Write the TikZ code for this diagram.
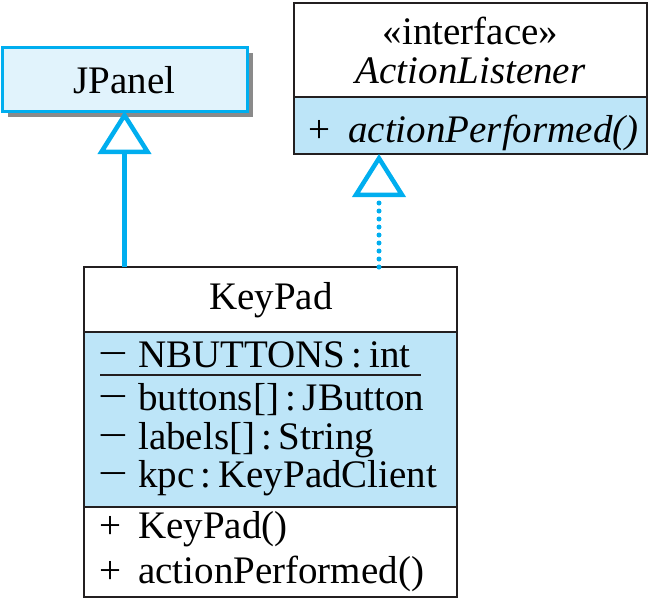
\documentclass[tikz,border=0pt]{standalone}
\usepackage{fontspec}
\usepackage{graphicx}
\setmainfont{Liberation Serif}
\usetikzlibrary{arrows.meta,calc}
\definecolor{umlcyan}{HTML}{00AEEF}
\definecolor{umlblue}{HTML}{BDE5F8}
\definecolor{umlpale}{HTML}{E1F3FC}
\definecolor{umlline}{HTML}{231F20}
\definecolor{umlshadow}{HTML}{8A8A8A}
\newcommand\umlminus{\raisebox{0.5pt}{\scalebox{1.35}[1]{−}}}
\begin{document}
\begin{tikzpicture}[x=1pt,y=-1pt,
 comp/.style={draw=umlline, line width=2.5pt, inner sep=0pt, outer sep=0pt, anchor=north west, minimum width=373pt},
 txt/.style={inner sep=0pt, anchor=base west, font=\fontsize{39}{42}\selectfont},
 ctxt/.style={inner sep=0pt, anchor=base, font=\fontsize{39}{42}\selectfont},
 tipstyle/.style={-{Triangle[open, length=43pt, width=53pt, fill=white, line width=4.5pt]}},
 gen/.style={umlcyan, line width=4.5pt, tipstyle},
 real/.style={umlcyan, line width=5pt, line cap=round, dash pattern=on 0pt off 8pt, tipstyle},
]
\useasboundingbox (0,0) rectangle (651,600);
% JPanel
\fill[umlshadow] (8,53) rectangle (253,117);
\node[draw=umlcyan, fill=umlpale, line width=3pt, inner sep=0pt, outer sep=0pt, anchor=north west, minimum width=245pt, minimum height=64pt] (jp) at (2,47) {};
\node[ctxt] (jpt) at (124.5,93) {JPanel};
% ActionListener
\node[comp, fill=white, minimum width=353pt, minimum height=94pt] (al1) at (294,3) {};
\node[comp, fill=umlblue, minimum width=353pt, minimum height=57pt] (al2) at (294,97) {};
\node[ctxt] (alst) at (470.5,44) {«interface»};
\node[ctxt, font=\fontsize{39}{42}\selectfont\itshape] (aln) at (470.5,83) {ActionListener};
\node[txt] (alp) at (308,142) {+};
\node[txt, font=\fontsize{39}{42}\selectfont\itshape] (alm) at (348,142) {actionPerformed()};
% KeyPad
\node[comp, fill=white, minimum height=65pt] (kp1) at (84,267) {};
\node[comp, fill=umlblue, minimum height=175pt] (kp2) at (84,332) {};
\node[comp, fill=white, minimum height=90pt] (kp3) at (84,507) {};
\node[ctxt] (kpt) at (271,309) {KeyPad};
\node[txt] (m1) at (98,367) {\umlminus};
\node[txt] (a1) at (138,367) {NBUTTONS\,:\,int};
\draw[umlline, line width=2pt] (100,375) -- (421,375);
\node[txt] (m2) at (98,410) {\umlminus};
\node[txt] (a2) at (138,410) {buttons[]\,:\,JButton};
\node[txt] (m3) at (98,449) {\umlminus};
\node[txt] (a3) at (138,449) {labels[]\,:\,String};
\node[txt] (m4) at (98,487) {\umlminus};
\node[txt] (a4) at (138,487) {kpc\,:\,KeyPadClient};
\node[txt] (p1) at (99,538) {+};
\node[txt] (o1) at (138,538) {KeyPad()};
\node[txt] (p2) at (99,583) {+};
\node[txt] (o2) at (138,583) {actionPerformed()};
% connectors
\draw[gen] (kp1.north -| jp.south) -- (jp.south);
\coordinate (d1) at ($(kp1.north east)+(-78,0)$);
\draw[real] (d1) -- (d1 |- al2.south);
\end{tikzpicture}
\end{document}
